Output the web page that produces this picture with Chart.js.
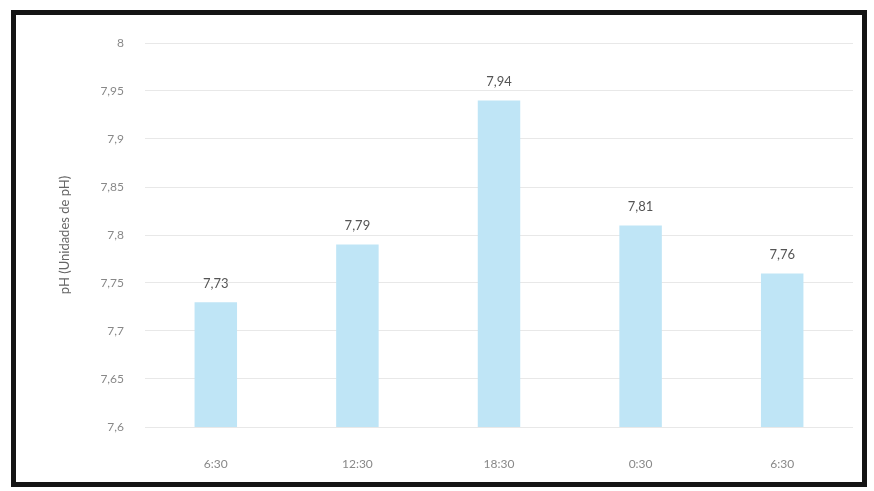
<!DOCTYPE html>
<html>
<head>
<meta charset="utf-8">
<script src="https://cdn.jsdelivr.net/npm/chart.js@4"></script>
<style>
  html, body { margin: 0; padding: 0; background: #fff; }
  #wrap { position: relative; width: 874px; height: 491px; }
  #frame { position: absolute; left: 11px; top: 10px; width: 856px; height: 477px;
           border: 5px solid #141414; box-sizing: border-box; pointer-events: none; }
  canvas { position: absolute; left: 0; top: 0; }
</style>
</head>
<body>
<div id="wrap">
  <canvas id="c" width="874" height="491"></canvas>
  <div id="frame"></div>
</div>
<script>
const categories = ["6:30", "12:30", "18:30", "0:30", "6:30"];
const phValues = [7.73, 7.79, 7.94, 7.81, 7.76];
const yTitle = "pH (Unidades de pH)";
const yMin = 7.6, yMax = 8, yStep = 0.05;

const fmt = v => (Math.round(v * 100) / 100).toString().replace('.', ',');

const valueLabels = {
  id: 'valueLabels',
  afterDatasetsDraw(chart) {
    const ctx = chart.ctx;
    const meta = chart.getDatasetMeta(0);
    ctx.save();
    ctx.font = '13px Lato, "Open Sans", sans-serif';
    ctx.fillStyle = '#555';
    ctx.textAlign = 'center';
    ctx.textBaseline = 'bottom';
    meta.data.forEach((bar, i) => {
      ctx.fillText(fmt(chart.data.datasets[0].data[i]), bar.x, bar.y - 12);
    });
    ctx.restore();
  }
};

new Chart(document.getElementById('c'), {
  type: 'bar',
  data: {
    labels: categories,
    datasets: [{
      data: phValues,
      backgroundColor: '#bfe5f6',
      borderWidth: 0,
      categoryPercentage: 1,
      barPercentage: 0.3
    }]
  },
  options: {
    responsive: false,
    animation: false,
    layout: { padding: { left: 55, right: 21, top: 43, bottom: 0 } },
    plugins: { legend: { display: false }, tooltip: { enabled: false } },
    scales: {
      x: {
        grid: { display: false },
        border: { display: false },
        ticks: { color: '#888', font: { family: 'Lato', size: 12 }, padding: 22 },
        afterFit(s) { s.height = 64; }
      },
      y: {
        min: yMin, max: yMax,
        grid: { color: '#e8e8e8', drawTicks: false },
        border: { display: false },
        ticks: {
          stepSize: yStep, color: '#888', padding: 21,
          font: { family: 'Lato', size: 12 },
          callback: v => fmt(v)
        },
        title: { display: true, text: yTitle, color: '#666',
                 font: { family: 'Lato', size: 13 }, padding: { top: 2, bottom: 0 } },
        afterFit(s) { s.width = 90; }
      }
    }
  },
  plugins: [valueLabels]
});
</script>
</body>
</html>
